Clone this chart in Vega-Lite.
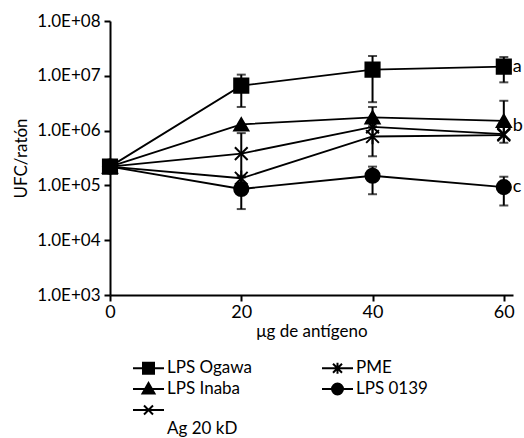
{
  "$schema": "https://vega.github.io/schema/vega-lite/v6.json",
  "autosize": "none",
  "width": 403,
  "height": 274,
  "padding": {"left": 110, "top": 21, "right": 11, "bottom": 143},
  "background": "white",
  "config": {
    "font": "Lato",
    "view": {"stroke": null},
    "axis": {
      "grid": false, "domainColor": "black", "domainWidth": 2, "tickColor": "black", "tickWidth": 2, "tickSize": 6, "labelFlush": false,
      "labelFont": "Lato", "labelFontSize": 17, "labelColor": "black", "titleFont": "Lato", "titleFontSize": 17, "titleFontWeight": "normal", "titleColor": "black"
    },
    "legend": {"labelFont": "Lato", "labelFontSize": 17, "labelColor": "black"}
  },
  "resolve": {"scale": {"shape": "independent"}, "legend": {"shape": "independent"}},
  "datasets": {
    "pts": [
      {"serie": "LPS Ogawa", "x": 0, "y": 220000},
      {"serie": "LPS Ogawa", "x": 20, "y": 6600000, "lo": 2700000, "hi": 10500000},
      {"serie": "LPS Ogawa", "x": 40, "y": 13000000, "lo": 3300000, "hi": 23000000},
      {"serie": "LPS Ogawa", "x": 60, "y": 14700000, "lo": 7600000, "hi": 22000000},
      {"serie": "LPS Inaba", "x": 0, "y": 220000},
      {"serie": "LPS Inaba", "x": 20, "y": 1300000},
      {"serie": "LPS Inaba", "x": 40, "y": 1750000, "lo": 1200000, "hi": 2700000},
      {"serie": "LPS Inaba", "x": 60, "y": 1500000, "lo": 600000, "hi": 3500000},
      {"serie": "Ag 20 kD", "x": 0, "y": 220000},
      {"serie": "Ag 20 kD", "x": 20, "y": 380000, "lo": 150000, "hi": 900000},
      {"serie": "Ag 20 kD", "x": 40, "y": 1170000},
      {"serie": "Ag 20 kD", "x": 60, "y": 860000},
      {"serie": "PME", "x": 0, "y": 220000},
      {"serie": "PME", "x": 20, "y": 135000},
      {"serie": "PME", "x": 40, "y": 780000, "lo": 340000, "hi": 1500000},
      {"serie": "PME", "x": 60, "y": 830000},
      {"serie": "LPS 0139", "x": 0, "y": 220000},
      {"serie": "LPS 0139", "x": 20, "y": 86000, "lo": 37000, "hi": 140000},
      {"serie": "LPS 0139", "x": 40, "y": 150000, "lo": 69000, "hi": 220000},
      {"serie": "LPS 0139", "x": 60, "y": 93000, "lo": 43000, "hi": 144000}
    ],
    "letters": [
      {"x": 60, "y": 14700000, "t": "a"},
      {"x": 60, "y": 1200000, "t": "b"},
      {"x": 60, "y": 93000, "t": "c"}
    ]
  },
  "layer": [
    {
      "data": {"name": "pts"},
      "transform": [{"filter": "isValid(datum.lo)"}],
      "mark": {"type": "errorbar", "ticks": {"size": 9, "thickness": 2, "color": "black"}, "rule": {"strokeWidth": 2, "color": "black"}},
      "encoding": {
        "x": {"field": "x", "type": "quantitative"},
        "y": {"field": "lo", "type": "quantitative", "title": "UFC/ratón"},
        "y2": {"field": "hi"},
        "detail": {"field": "serie"}
      }
    },
    {
      "data": {"name": "pts"},
      "mark": {"type": "line", "color": "black", "strokeWidth": 1.8},
      "encoding": {
        "x": {"field": "x", "type": "quantitative"},
        "y": {"field": "y", "type": "quantitative"},
        "detail": {"field": "serie"}
      }
    },
    {
      "data": {"name": "pts"},
      "mark": {"type": "point", "filled": true, "fill": "black", "stroke": "black", "strokeWidth": 2, "opacity": 1, "size": 200},
      "encoding": {
        "x": {"field": "x", "type": "quantitative", "scale": {"domain": [0, 61.4], "nice": false}, "axis": {"values": [0, 20, 40, 60], "title": "μg de antígeno", "labelPadding": 2, "titlePadding": 2, "labelFontSize": 18}},
        "y": {"field": "y", "type": "quantitative", "title": "UFC/ratón", "scale": {"type": "log", "domain": [1000, 100000000], "nice": false}, "axis": {"values": [1000, 10000, 100000, 1000000, 10000000, 100000000], "labelExpr": "'1.0E+0' + round(log(datum.value)/LN10)", "labelPadding": 4, "titlePadding": 6}},
        "shape": {
          "field": "serie", "type": "nominal", "legend": null,
          "scale": {
            "domain": ["LPS Ogawa", "LPS Inaba", "Ag 20 kD", "PME", "LPS 0139"],
            "range": ["square", "triangle-up", "M-0.9,-0.9L0.9,0.9M-0.9,0.9L0.9,-0.9", "M-0.9,-0.9L0.9,0.9M-0.9,0.9L0.9,-0.9M0,-1.1V1.1", "circle"]
          }
        }
      }
    },
    {
      "data": {"name": "pts"},
      "transform": [{"filter": "datum.x < 0"}],
      "mark": {"type": "point", "filled": false, "fill": "black", "stroke": "black", "strokeWidth": 2, "opacity": 1},
      "encoding": {
        "x": {"field": "x", "type": "quantitative"},
        "y": {"field": "y", "type": "quantitative"},
        "shape": {
          "field": "serie", "type": "nominal",
          "scale": {
            "domain": ["LPS Ogawa", "LPS Inaba", "Ag 20 kD", "PME", "LPS 0139"],
            "range": [
              "M-2.1,0H1M-1.1,-0.55H0V0.55H-1.1Z",
              "M-2.1,0H1M-0.55,-0.6L0.05,0.45H-1.15Z",
              "M-2.1,0H1M-1,-0.45L-0.1,0.45M-1,0.45L-0.1,-0.45",
              "M-2.1,0H1M-1,-0.45L-0.1,0.45M-1,0.45L-0.1,-0.45M-0.55,-0.55V0.55",
              "M-2.1,0H1M-1.1,0A0.55,0.55,0,1,0,0,0A0.55,0.55,0,1,0,-1.1,0Z"
            ]
          },
          "legend": {
            "orient": "none", "legendX": 33, "legendY": 336, "columns": 2, "columnPadding": 66, "rowPadding": 0,
            "title": null, "symbolSize": 400, "labelOffset": 2, "symbolStrokeWidth": 2, "symbolOpacity": 1,
            "labelExpr": "datum.label == 'Ag 20 kD' ? ['', 'Ag 20 kD'] : datum.label"
          }
        }
      }
    },
    {
      "data": {"name": "letters"},
      "mark": {"type": "text", "align": "left", "baseline": "middle", "dx": 9, "fontSize": 18, "color": "black"},
      "encoding": {
        "x": {"field": "x", "type": "quantitative"},
        "y": {"field": "y", "type": "quantitative"},
        "text": {"field": "t"}
      }
    }
  ]
}
